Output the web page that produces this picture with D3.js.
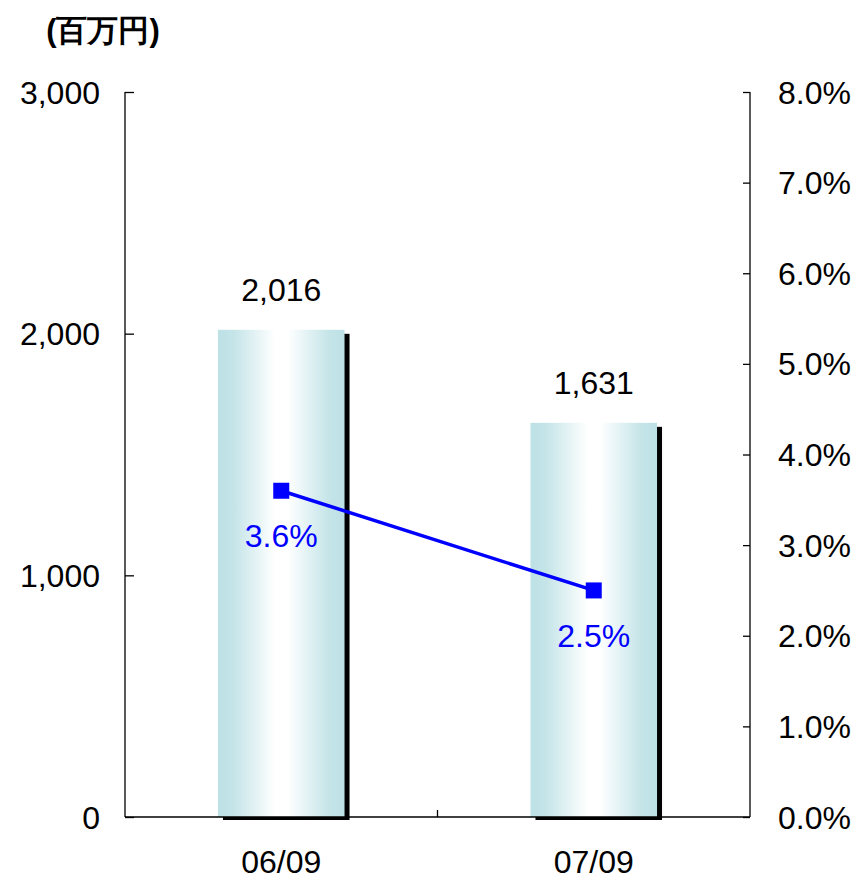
<!DOCTYPE html>
<html><head><meta charset="utf-8">
<script src="https://cdn.jsdelivr.net/npm/d3@7"></script>
<style>body{margin:0;background:#fff;}svg{display:block;}text{font-family:"Liberation Sans",Arial,sans-serif;}</style>
</head><body>
<svg id="c" width="857" height="881"></svg>
<script>
const categories = ["06/09", "07/09"];
const amounts = [2016, 1631];
const ratios = [3.6, 2.5];
const leftTicks = [0, 1000, 2000, 3000];
const rightTicks = [0, 1, 2, 3, 4, 5, 6, 7, 8];
const unitLabel = "(百万円)";

const svg = d3.select("#c");
const L = 125, R = 750, T = 92, B = 817;
const FS = 32;

const x = d3.scaleBand().domain(categories).range([L, R]).paddingInner(0).paddingOuter(0);
const yL = d3.scaleLinear().domain([0, 3000]).range([B, T]);
const yR = d3.scaleLinear().domain([0, 8]).range([B, T]);

const defs = svg.append("defs");
const g = defs.append("linearGradient").attr("id", "bg").attr("x1", "0%").attr("x2", "100%").attr("y1", "0%").attr("y2", "0%");
g.append("stop").attr("offset", "0%").attr("stop-color", "#bde1e5");
g.append("stop").attr("offset", "12%").attr("stop-color", "#c4e4e8");
g.append("stop").attr("offset", "45%").attr("stop-color", "#ffffff");
g.append("stop").attr("offset", "55%").attr("stop-color", "#ffffff");
g.append("stop").attr("offset", "88%").attr("stop-color", "#c4e4e8");
g.append("stop").attr("offset", "100%").attr("stop-color", "#bde1e5");

const bw = x.bandwidth() * 0.405;
const bx = d => x(d) + x.bandwidth() / 2 - bw / 2;

// shadows
svg.selectAll("rect.sh").data(categories).enter().append("rect")
  .attr("x", (d, i) => bx(d) + 5).attr("y", (d, i) => yL(amounts[i]) + 4)
  .attr("width", bw).attr("height", (d, i) => B - yL(amounts[i]) - 1)
  .attr("fill", "#000");
svg.selectAll("rect.bar").data(categories).enter().append("rect")
  .attr("x", d => bx(d)).attr("y", (d, i) => yL(amounts[i]))
  .attr("width", bw).attr("height", (d, i) => B - yL(amounts[i]))
  .attr("fill", "url(#bg)");

// axes
const axL = svg.append("g").attr("transform", `translate(${L},0)`)
  .call(d3.axisRight(yL).tickValues(leftTicks).tickSize(9).tickFormat(""));
const axR = svg.append("g").attr("transform", `translate(${R},0)`)
  .call(d3.axisLeft(yR).tickValues(rightTicks).tickSize(7).tickFormat(""));
[axL, axR].forEach(a => { a.selectAll("line").attr("stroke", "#000").attr("stroke-width", 1.3); a.select(".domain").remove(); });
svg.append("line").attr("x1", L).attr("x2", L).attr("y1", T).attr("y2", B).attr("stroke", "#000").attr("stroke-width", 1.3);
svg.append("line").attr("x1", R).attr("x2", R).attr("y1", T).attr("y2", B).attr("stroke", "#000").attr("stroke-width", 1.3);
svg.append("line").attr("x1", L).attr("x2", R).attr("y1", B).attr("y2", B).attr("stroke", "#000").attr("stroke-width", 1.3);
// category separator tick
svg.append("line").attr("x1", x(categories[1])).attr("x2", x(categories[1])).attr("y1", B).attr("y2", B - 7).attr("stroke", "#000").attr("stroke-width", 1.3);

const fmt = d3.format(",");
svg.selectAll("text.lt").data(leftTicks).enter().append("text")
  .attr("x", 100).attr("y", d => yL(d)).attr("dy", "0.36em").attr("text-anchor", "end")
  .attr("font-size", FS).text(d => fmt(d));
svg.selectAll("text.rt").data(rightTicks).enter().append("text")
  .attr("x", 778).attr("y", d => yR(d)).attr("dy", "0.36em").attr("text-anchor", "start")
  .attr("font-size", FS).text(d => d.toFixed(1) + "%");
svg.selectAll("text.xt").data(categories).enter().append("text")
  .attr("x", d => x(d) + x.bandwidth() / 2).attr("y", 861).attr("dy", "0.36em").attr("text-anchor", "middle")
  .attr("font-size", FS).text(d => d);

// value labels
svg.selectAll("text.vl").data(categories).enter().append("text")
  .attr("x", d => x(d) + x.bandwidth() / 2).attr("y", (d, i) => yL(amounts[i]) - 40).attr("dy", "0.36em")
  .attr("text-anchor", "middle").attr("font-size", FS).text((d, i) => fmt(amounts[i]));

// line
const cx = d => x(d) + x.bandwidth() / 2;
svg.append("path").datum(categories)
  .attr("d", d3.line().x(d => cx(d)).y((d, i) => yR(ratios[i])))
  .attr("fill", "none").attr("stroke", "#0000ff").attr("stroke-width", 3.5);
svg.selectAll("rect.mk").data(categories).enter().append("rect")
  .attr("x", d => cx(d) - 8).attr("y", (d, i) => yR(ratios[i]) - 8)
  .attr("width", 16).attr("height", 16).attr("fill", "#0000ff");
svg.selectAll("text.pl").data(categories).enter().append("text")
  .attr("x", d => cx(d)).attr("y", (d, i) => yR(ratios[i]) + 45).attr("dy", "0.36em")
  .attr("text-anchor", "middle").attr("font-size", FS).attr("fill", "#0000ff").text((d, i) => ratios[i].toFixed(1) + "%");

svg.append("text").attr("x", 103).attr("y", 30).attr("dy", "0.36em").attr("text-anchor", "middle")
  .attr("font-size", 31).attr("font-weight", "bold")
  .attr("font-family", "'Noto Sans CJK JP', sans-serif").text(unitLabel);
</script>
</body></html>
